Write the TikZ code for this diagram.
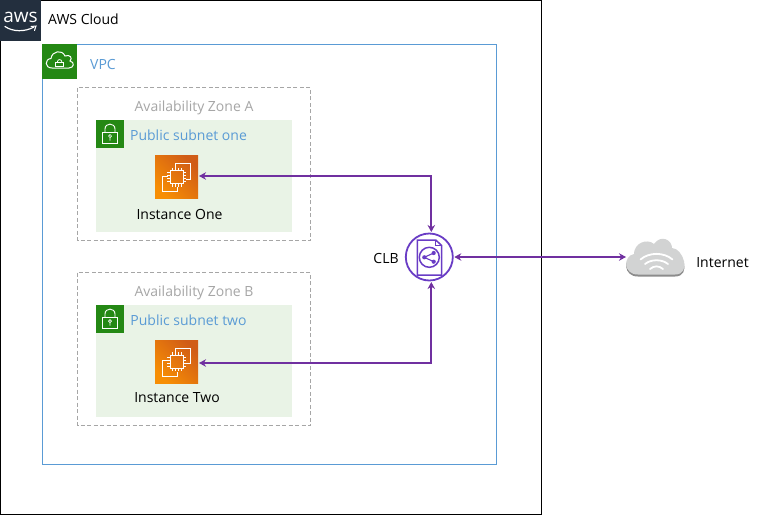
\documentclass[tikz,border=0pt]{standalone}
\usepackage{fontspec}
\setmainfont{Open Sans}
\usetikzlibrary{arrows.meta,shadings}
\definecolor{awsnavy}{HTML}{232F3E}
\definecolor{awsgreen}{HTML}{248814}
\definecolor{vpcblue}{HTML}{5A9BD5}
\definecolor{subnetbg}{HTML}{E9F3E6}
\definecolor{azgrey}{HTML}{A6A6A6}
\definecolor{clbpurple}{HTML}{693CC5}
\definecolor{arrowpurple}{HTML}{7030A0}
\definecolor{cloudgrey}{HTML}{D2D3D3}
\definecolor{cloudedge}{HTML}{8C8C8C}
\definecolor{chipa}{HTML}{D05C17}
\definecolor{chipb}{HTML}{F78E04}
\tikzset{
  x=1pt,y=-1pt,
  lbl/.style={inner sep=0pt,font=\fontsize{14}{16}\selectfont,anchor=center},
  bluelbl/.style={lbl,text=vpcblue},
  greylbl/.style={lbl,text=azgrey},
  zonebox/.style={draw=azgrey,dash pattern=on 4pt off 2.5pt,line width=.7pt},
  subnetbox/.style={fill=subnetbg},
  squareicon/.style={minimum size=#1,inner sep=0pt,outer sep=0pt,anchor=center},
  glyph/.style={draw=white,line width=1pt,fill=none},
  link/.style={draw=arrowpurple,line width=1.8pt,{Stealth[length=7pt,width=7.5pt]}-{Stealth[length=7pt,width=7.5pt]}},
}
\newcommand{\chipicon}[2]{%
  \node[squareicon=43pt,left color=chipa,right color=chipb,shading angle=-45] (#1) at (#2) {};
  \begin{scope}[shift={(#2)}]
    \draw[glyph] (-1,-9) -- (-1,-13.3) -- (14.3,-13.3) -- (14.3,2) -- (9.5,2);
    \draw[glyph] (-9,-0.7) -- (-13.7,-0.7) -- (-13.7,14.7) -- (1.3,14.7) -- (1.3,10);
    \foreach \k in {-4.5,-1.5,1.5,4.5}{
      \draw[white,line width=.8pt] (\k,-6.5) -- (\k,-9.5) (\k,6.5) -- (\k,9.5) (-6.5,\k) -- (-9.5,\k) (6.5,\k) -- (9.5,\k);
    }
    \draw[glyph] (-6.5,-6.5) rectangle (6.5,6.5);
  \end{scope}}
\newcommand{\lockicon}[2]{%
  \node[squareicon=28pt,fill=awsgreen] (#1) at (#2) {};
  \begin{scope}[shift={(#2)}]
    \draw[glyph,line width=.9pt] (-7.3,-1.7) rectangle (7.3,9.3);
    \draw[glyph,line width=.9pt] (-5,-1.7) -- (-5,-5) .. controls (-5,-11.5) and (5,-11.5) .. (5,-5) -- (5,-1.7);
    \draw[glyph,line width=.7pt] (0,2) circle (1.5) (0,3.5) -- (0,6.5);
  \end{scope}}
\begin{document}
\begin{tikzpicture}
\useasboundingbox (0,0) rectangle (765,515);
% AWS Cloud
\draw[black,line width=.8pt,fill=white] (0.5,0.5) rectangle (541,514.5);
\node[squareicon=41pt,fill=awsnavy,anchor=north west] (awsbadge) at (0,0) {};
\node[text=white,inner sep=0pt,font=\fontsize{19}{19}\selectfont] (awslogo) at (20.5,17) {aws};
\draw[white,line width=1.2pt,line cap=round] (5,26.5) .. controls (13,32) and (25,32) .. (34,27);
\draw[white,line width=1pt,line cap=round] (31,26.5) -- (36,26) -- (34.5,30.5);
\node[lbl] (cloudlabel) at (83.5,19) {AWS Cloud};
% VPC
\draw[vpcblue,line width=.8pt] (42.5,44.5) rectangle (496.5,464.5);
\node[squareicon=35pt,fill=awsgreen,anchor=north west] (vpcbadge) at (42,44) {};
\draw[glyph] (52,68) .. controls (44.5,68) and (44.5,59) .. (51,58.5) .. controls (52,51) and (62,49) .. (65,56) .. controls (70,54) and (73,58) .. (70,61) .. controls (75,62) and (74,68) .. (69,68) -- cycle;
\draw[glyph,line width=.8pt] (55.7,62.5) rectangle (63.5,66);
\draw[glyph,line width=.8pt] (57.5,62.5) -- (57.5,61.5) .. controls (57.5,59) and (61.7,59) .. (61.7,61.5) -- (61.7,62.5);
\node[bluelbl] (vpclabel) at (103,64) {VPC};
% Zones
\draw[zonebox] (77.5,87.5) rectangle (310.5,240.5);
\draw[zonebox] (77.5,272.5) rectangle (310.5,425.5);
\node[greylbl] (zonea) at (194,108) {Availability Zone A};
\node[greylbl] (zoneb) at (194,293) {Availability Zone B};
% Subnets
\fill[subnetbox] (96,120) rectangle (292,232);
\fill[subnetbox] (96,305) rectangle (292,417);
\lockicon{locka}{110,134}
\lockicon{lockb}{110,319}
\node[bluelbl] (subneta) at (188.5,135) {Public subnet one};
\node[bluelbl] (subnetb) at (188.5,320) {Public subnet two};
% Instances
\chipicon{insta}{176.5,177}
\chipicon{instb}{176.5,361.5}
\node[lbl] (instalabel) at (179.5,214) {Instance One};
\node[lbl] (instblabel) at (177,398) {Instance Two};
% CLB
\node[circle,draw=clbpurple,line width=1.8pt,minimum size=47pt,inner sep=0pt,outer sep=1.5pt] (clb) at (429.3,257) {};
\begin{scope}[clbpurple,line width=1.5pt]
  \draw (417.3,240) -- (435.7,240) -- (441.7,245.5) -- (441.7,275) -- (417.3,275) -- cycle;
  \draw[line width=1pt] (435.7,240) -- (435.7,245.5) -- (441.7,245.5);
  \fill[white] (429.3,257.3) circle (10);
  \draw (429.3,257.3) circle (10);
  \draw[line width=1.1pt] (424.3,257.3) -- (433.7,253) (424.3,257.3) -- (433.7,261.7);
  \fill (424.3,257.3) circle (2.1) (433.7,253) circle (2.1) (433.7,261.7) circle (2.1);
\end{scope}
\node[lbl] (clblabel) at (386,258) {CLB};
% Internet
\coordinate (netin) at (626,257);
\begin{scope}
  \fill[cloudedge] (638,276.5) .. controls (623,276.5) and (623,258) .. (634,256) .. controls (634,245) and (647,240) .. (654,246) .. controls (661,236) and (672,242) .. (672,250) .. controls (683,250) and (692,276.5) .. (675,276.5) -- cycle;
  \fill[cloudgrey] (638,274.5) .. controls (623,274.5) and (623,256) .. (634,254) .. controls (634,243) and (647,238) .. (654,244) .. controls (661,234) and (672,240) .. (672,248) .. controls (683,248) and (692,274.5) .. (675,274.5) -- cycle;
  \draw[white,line width=1.8pt,line cap=round] (640.5,259.5) .. controls (649,252) and (664,252) .. (672.5,259.5);
  \draw[white,line width=1.8pt,line cap=round] (645,264) .. controls (651,259) and (662,259) .. (668,264);
  \draw[white,line width=1.8pt,line cap=round] (650,269) .. controls (654,265.5) and (659,265.5) .. (663,269);
\end{scope}
\node[lbl] (netlabel) at (722.5,262.5) {Internet};
% Connectors
\draw[link] ([xshift=2pt]clb.north) |- ([xshift=1pt,yshift=1pt]insta.east);
\draw[link] ([xshift=2pt]clb.south) |- ([xshift=1pt,yshift=-1.5pt]instb.east);
\draw[link] (clb.east) -- (netin);
\end{tikzpicture}
\end{document}
